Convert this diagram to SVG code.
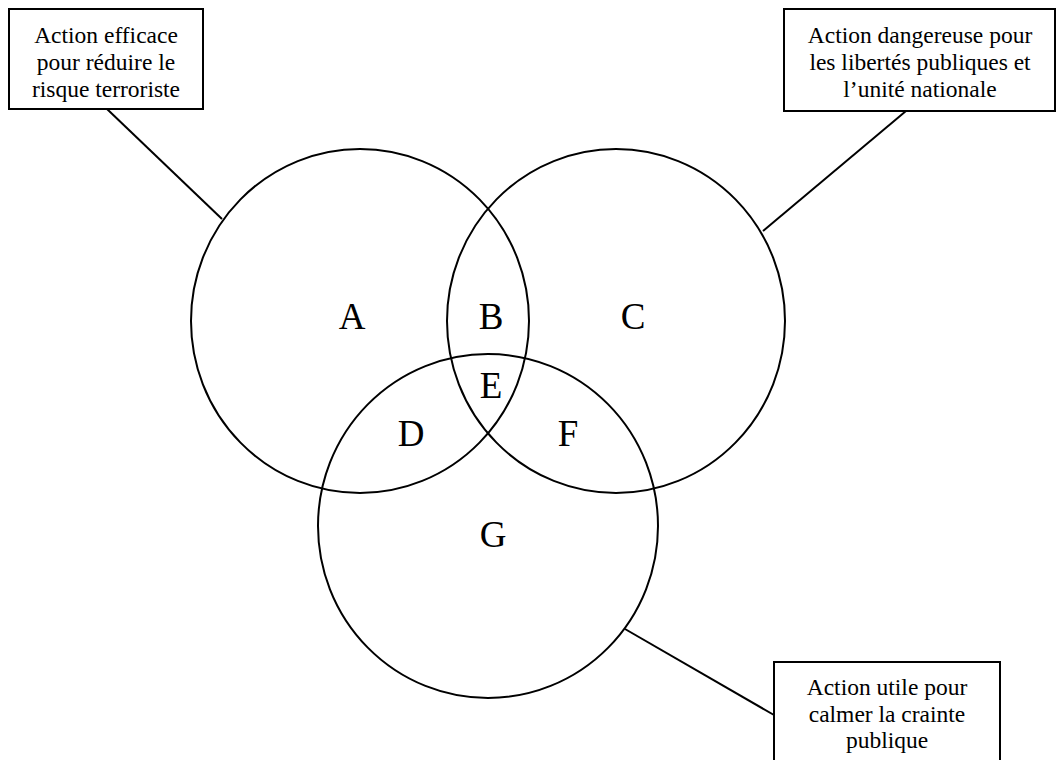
<svg xmlns="http://www.w3.org/2000/svg" width="1057" height="760" viewBox="0 0 1057 760">
<style>
.shape{fill:none;stroke:#000;stroke-width:2}
.box{fill:#fff;stroke:#000;stroke-width:2}
.lbl{font-family:"Liberation Serif","Times New Roman",serif;font-size:23.5px;fill:#000;text-anchor:middle}
.big{font-family:"Liberation Serif","Times New Roman",serif;font-size:37px;fill:#000;text-anchor:middle}
</style>
<rect width="1057" height="760" fill="#fff"/>
<g id="connectors">
<line class="shape" x1="107" y1="109" x2="222" y2="219"/>
<line class="shape" x1="906" y1="111" x2="763" y2="231"/>
<line class="shape" x1="625" y1="629" x2="774" y2="715"/>
</g>
<g id="circleA"><ellipse class="shape" cx="360" cy="321" rx="169" ry="172"/></g>
<g id="circleC"><ellipse class="shape" cx="616" cy="321" rx="169" ry="172"/></g>
<g id="circleG"><ellipse class="shape" cx="488" cy="526" rx="170" ry="172"/></g>
<g id="regions">
<text class="big" x="352" y="329">A</text>
<text class="big" x="491" y="329">B</text>
<text class="big" x="633" y="329">C</text>
<text class="big" x="491" y="398">E</text>
<text class="big" x="411" y="446">D</text>
<text class="big" x="568" y="446">F</text>
<text class="big" x="493" y="547">G</text>
</g>
<g id="box1">
<rect class="box" x="9" y="9" width="194" height="100"/>
<text class="lbl" x="106" y="43">Action efficace</text>
<text class="lbl" x="106" y="70">pour réduire le</text>
<text class="lbl" x="106" y="97">risque terroriste</text>
</g>
<g id="box2">
<rect class="box" x="784" y="9" width="271" height="102"/>
<text class="lbl" x="920" y="43">Action dangereuse pour</text>
<text class="lbl" x="920" y="70">les libertés publiques et</text>
<text class="lbl" x="920" y="97">l’unité nationale</text>
</g>
<g id="box3">
<rect class="box" x="774" y="662" width="226" height="110"/>
<text class="lbl" x="887" y="695">Action utile pour</text>
<text class="lbl" x="887" y="722">calmer la crainte</text>
<text class="lbl" x="887" y="748">publique</text>
</g>
</svg>
